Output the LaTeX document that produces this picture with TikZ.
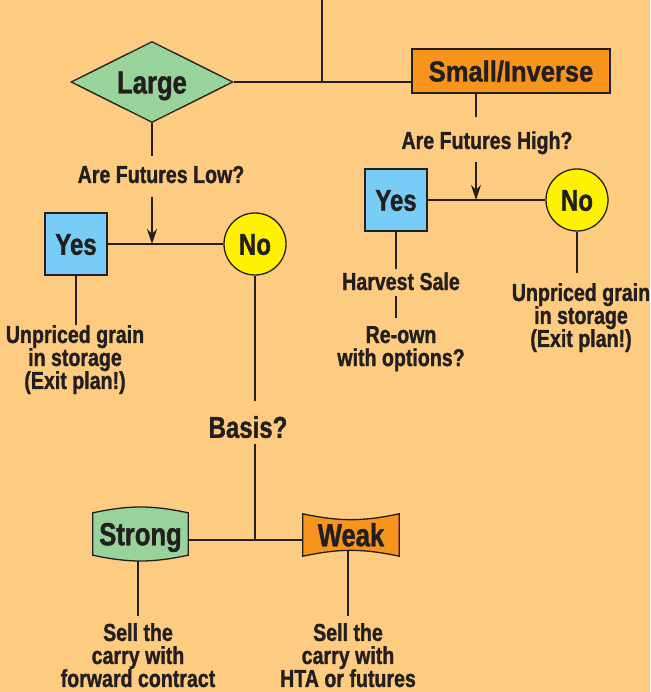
\documentclass[tikz,border=0pt]{standalone}
\usepackage{fontspec}
\setmainfont{Liberation Sans}[FakeStretch=0.8, BoldFeatures={FakeBold=1.2}]
\newfontfamily\headwide{Liberation Sans}[FakeStretch=0.88, BoldFeatures={FakeBold=1.2}]
\usetikzlibrary{shapes.geometric,arrows.meta,backgrounds}

\definecolor{bgpeach}{RGB}{254,204,128}
\definecolor{leafgreen}{RGB}{152,211,155}
\definecolor{pumpkin}{RGB}{247,148,29}
\definecolor{skyblue}{RGB}{119,205,245}
\definecolor{lemon}{RGB}{255,242,0}
\definecolor{inkdark}{RGB}{35,31,32}

\tikzset{
  head/.style={font=\fontsize{30}{30}\selectfont\bfseries, text=inkdark,
    inner sep=0pt, text height=21.5pt, text depth=0pt},
  note/.style={font=\fontsize{24.5}{23}\selectfont\bfseries, text=inkdark,
    align=center, inner sep=0pt},
  link/.style={draw=inkdark, line width=2.2pt},
  arrowlink/.style={link, -{Stealth[length=15pt,width=10pt,inset=5pt]}},
  shapeline/.style={draw=inkdark, line width=1.3pt},
  yesbox/.style={head, rectangle, shapeline, fill=skyblue, minimum width=62pt, minimum height=62pt},
  nodisc/.style={head, circle, shapeline, fill=lemon, minimum size=62pt},
}

\begin{document}
\begin{tikzpicture}[x=1pt,y=-1pt]
  \useasboundingbox (0,0) rectangle (650,692);
  \begin{scope}[on background layer]
    \fill[bgpeach] (0,0) rectangle (650,692);
  \end{scope}

  % operation size
  \node[head, diamond, aspect=2, shapeline, fill=leafgreen, minimum width=162pt,
    minimum height=81pt, font=\fontsize{32}{32}\selectfont\bfseries, text height=23pt] (large) at (152,82) {Large};
  \node[head, rectangle, shapeline, fill=pumpkin, minimum width=198pt, minimum height=44pt,
    font=\headwide\fontsize{29}{29}\selectfont\bfseries, text height=21pt] (small) at (511,71) {Small/Inverse};
  \coordinate (entry) at (322,0);
  \draw[link] (entry) -- (entry |- large.east);
  \draw[link] (large.east) -- (large.east -| small.west);

  % large: are futures low?
  \node[note, anchor=base] (lowq) at (161,183) {Are Futures Low?};
  \coordinate (ltrunk) at (152,244);
  \node[yesbox] (lyes) at (76,244) {Yes};
  \node[nodisc] (lno) at (255,244) {No};
  \node[note, anchor=north] (lstore) at (75,325) {Unpriced grain\\in storage\\(Exit plan!)};
  \draw[link, shorten >=10pt] (large.south) -- (large.south |- lowq.north);
  \draw[arrowlink, shorten <=14pt] (large.south |- lowq.south) -- (ltrunk);
  \draw[link] (lyes) -- (lno);
  \draw[link] (lyes.south) -- (lyes.south |- lstore.north);

  % basis
  \node[head] (basis) at (248,427) {Basis?};
  \coordinate (basisjoin) at (255,540);
  \node[head, minimum width=95pt, minimum height=42pt, font=\fontsize{32}{32}\selectfont\bfseries,
    text height=22.5pt] (strong) at (140.5,534) {Strong};
  \node[head, minimum width=96pt, minimum height=42pt, font=\fontsize{32}{32}\selectfont\bfseries,
    text height=22.5pt] (weak) at (351,535) {Weak};
  \begin{scope}[on background layer]
    \draw[shapeline, fill=leafgreen] (strong.north west) to[bend left=12] (strong.north east)
      -- (strong.south east) to[bend left=12] (strong.south west) -- cycle;
    \draw[shapeline, fill=pumpkin] (weak.north west) to[bend right=12] (weak.north east)
      -- (weak.south east) to[bend right=12] (weak.south west) -- cycle;
  \end{scope}
  \node[note, anchor=north] (strongnote) at (138,623) {Sell the\\carry with\\forward contract};
  \node[note, anchor=north] (weaknote) at (348,623) {Sell the\\carry with\\HTA or futures};
  \draw[link, shorten >=15pt] (lno.south) -- (lno.south |- basis.north);
  \draw[link, shorten <=6pt] (lno.south |- basis.south) -- (basisjoin);
  \draw[link] (strong.east |- basisjoin) -- (weak.west |- basisjoin);
  \draw[link, shorten <=6pt, shorten >=7pt] (strong.south -| strongnote.north) -- (strongnote.north);
  \draw[link, shorten <=-5pt, shorten >=7pt] (weak.south -| weaknote.north) -- (weaknote.north);

  % small/inverse: are futures high?
  \node[note, anchor=base] (highq) at (487,149) {Are Futures High?};
  \coordinate (rtrunk) at (476,200);
  \node[yesbox] (ryes) at (396,200) {Yes};
  \node[nodisc] (rno) at (577,200) {No};
  \node[note, anchor=base] (harvest) at (401,290) {Harvest Sale};
  \node[note, anchor=north] (reown) at (401,326) {Re-own\\with options?};
  \node[note, anchor=north] (rstore) at (581,283) {Unpriced grain\\in storage\\(Exit plan!)};
  \draw[link, shorten >=14pt] (small.south -| rtrunk) -- (highq.north -| rtrunk);
  \draw[arrowlink, shorten <=8pt] (highq.south -| rtrunk) -- (rtrunk);
  \draw[link] (ryes) -- (rno);
  \draw[link, shorten >=3pt] (ryes.south) -- (ryes.south |- harvest.north);
  \draw[link, shorten <=6pt, shorten >=8pt] (ryes.south |- harvest.south) -- (ryes.south |- reown.north);
  \draw[link, shorten >=10pt] (rno.south) -- (rno.south |- rstore.north);
\end{tikzpicture}
\end{document}
